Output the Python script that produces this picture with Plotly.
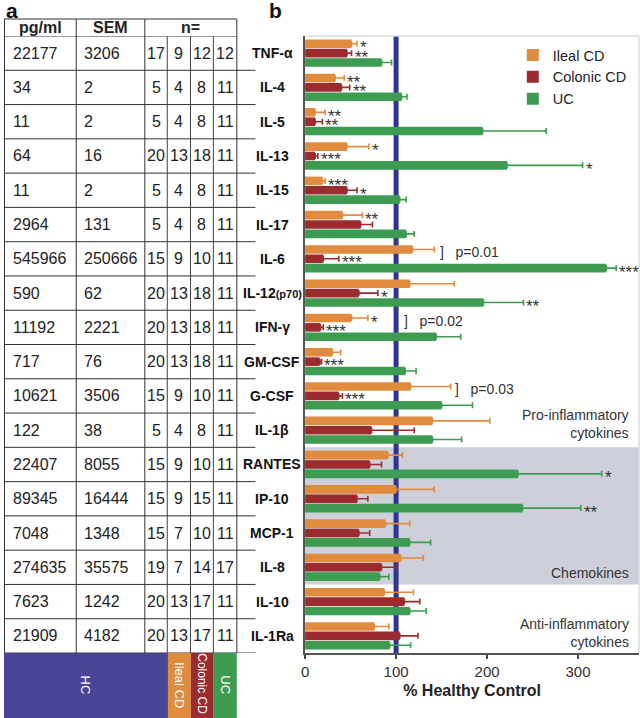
import plotly.graph_objects as go

W, H = 640, 718
def px(x): return x / W
def py(y): return 1 - y / H

# ---------------- data ----------------
cats = ["TNF-α", "IL-4", "IL-5", "IL-13", "IL-15", "IL-17", "IL-6", "IL-12(p70)", "IFN-γ",
        "GM-CSF", "G-CSF", "IL-1β", "RANTES", "IP-10", "MCP-1", "IL-8", "IL-10", "IL-1Ra"]
cat_labels = ["TNF-α", "IL-4", "IL-5", "IL-13", "IL-15", "IL-17", "IL-6",
              "IL-12<span style='font-size:11px'>(p70)</span>", "IFN-γ",
              "GM-CSF", "G-CSF", "IL-1β", "RANTES", "IP-10", "MCP-1", "IL-8", "IL-10", "IL-1Ra"]

ileal = [51, 33, 11, 46, 19, 41, 118, 115, 51, 30, 116, 140, 91, 100, 88, 105, 87, 76]
ileal_err = [6, 10, 11, 24, 3, 22, 24, 49, 18, 9, 44, 63, 16, 42, 27, 25, 32, 16]
colonic = [46, 40, 11, 11, 46, 61, 20, 59, 17, 16, 37, 73, 71, 57, 59, 84, 109, 104]
colonic_err = [5, 9, 8, 3, 11, 13, 17, 21, 3, 2, 4, 47, 13, 12, 12, 17, 17, 20]
uc = [84, 106, 195, 222, 104, 111, 331, 196, 144, 110, 150, 140, 234, 239, 115, 82, 115, 93]
uc_err = [11, 6, 70, 83, 7, 9, 11, 44, 27, 12, 34, 32, 92, 64, 23, 10, 18, 23]

stars_ileal = ["*", "**", "**", "*", "***", "**", "", "", "*", "", "", "", "", "", "", "", "", ""]
stars_colonic = ["**", "**", "**", "***", "*", "", "***", "*", "***", "***", "***", "", "", "", "", "", "", ""]
stars_uc = ["", "", "", "*", "", "", "***", "**", "", "", "", "", "*", "**", "", "", "", ""]

pval_cats = ["IL-6", "IFN-γ", "G-CSF"]
pval_text = ["p=0.01", "p=0.02", "p=0.03"]

pgml = [22177, 34, 11, 64, 11, 2964, 545966, 590, 11192, 717, 10621, 122, 22407, 89345, 7048, 274635, 7623, 21909]
sem = [3206, 2, 2, 16, 2, 131, 250666, 62, 2221, 76, 3506, 38, 8055, 16444, 1348, 35575, 1242, 4182]
n_hc = [17, 5, 5, 20, 5, 5, 15, 20, 20, 20, 15, 5, 15, 15, 15, 19, 20, 20]
n_ileal = [9, 4, 4, 13, 4, 4, 9, 13, 13, 13, 9, 4, 9, 9, 7, 7, 13, 13]
n_colonic = [12, 8, 8, 18, 8, 8, 10, 18, 18, 18, 10, 8, 10, 15, 10, 14, 17, 17]
n_uc = [12, 11, 11, 11, 11, 11, 11, 11, 11, 11, 11, 11, 11, 11, 11, 17, 11, 11]

series_names = ["Ileal CD", "Colonic CD", "UC"]
x_ticks = [0, 100, 200, 300]

# ---------------- styles ----------------
C_ORANGE = "#e08b3d"
C_RED = "#9c2b2f"
C_GREEN = "#3e9c52"
C_BLUE = "#2d3491"
C_PURPLE = "#4a4497"
C_GRAY = "#cdd0d8"
FONT = "Arial, 'Liberation Sans', sans-serif"
TXT = "#222222"

fig = go.Figure()
series = [(ileal, ileal_err, C_ORANGE), (colonic, colonic_err, C_RED), (uc, uc_err, C_GREEN)]
for name, (vals, errs, col) in zip(series_names, series):
    fig.add_trace(go.Bar(
        y=cats, x=vals, name=name, orientation="h",
        marker=dict(color=col, line=dict(width=0)),
        error_x=dict(type="data", symmetric=False, array=errs, arrayminus=[0] * len(errs),
                     color=col, thickness=1.6, width=3),
    ))

shapes = []
ann = []

# chemokine shaded band
shapes.append(dict(type="rect", xref="x domain", yref="y", x0=0, x1=1,
                   y0=cats.index("RANTES") - 0.5, y1=cats.index("IL-8") + 0.5,
                   fillcolor=C_GRAY, line=dict(width=0), layer="below"))
# 100% reference line
shapes.append(dict(type="line", xref="x", yref="y domain", x0=100, x1=100, y0=0, y1=1,
                   line=dict(color=C_BLUE, width=5), layer="below"))
# light top/right frame
shapes.append(dict(type="line", xref="paper", yref="paper", x0=px(303), x1=px(639), y0=py(36), y1=py(36),
                   line=dict(color="#dddddd", width=1.5)))
shapes.append(dict(type="line", xref="paper", yref="paper", x0=px(639), x1=px(639), y0=py(36), y1=py(653),
                   line=dict(color="#dddddd", width=1.5)))

# ---------------- table (panel a) ----------------
LC = "#333333"
col_x = [0.5, 72.7, 141.7, 164.3, 187.7, 210.7, 234.3]
shapes.append(dict(type="line", xref="paper", yref="paper", x0=px(0), x1=px(234.3), y0=py(19), y1=py(19),
                   line=dict(color=LC, width=1)))
shapes.append(dict(type="line", xref="paper", yref="y", x0=px(0), x1=px(234.3), y0=-0.5, y1=-0.5,
                   line=dict(color=LC, width=1)))
for i in range(1, len(cats) + 1):
    shapes.append(dict(type="line", xref="paper", yref="y", x0=px(0), x1=px(253), y0=i - 0.5, y1=i - 0.5,
                       line=dict(color=LC, width=1)))
for j, xv in enumerate(col_x):
    if j in (0, 1, 2, 6):
        shapes.append(dict(type="line", xref="paper", yref="paper", x0=px(xv), x1=px(xv),
                           y0=py(19), y1=py(653), line=dict(color=LC, width=1)))
    else:
        shapes.append(dict(type="line", xref="paper", yref="paper", x0=px(xv), x1=px(xv),
                           y0=py(36.5), y1=py(653), line=dict(color="#444444", width=1)))

for txt, xc in [("pg/ml", 36.5), ("SEM", 107), ("n=", 188)]:
    ann.append(dict(text="<b>" + txt + "</b>", xref="paper", yref="paper", x=px(xc), y=py(28),
                    xanchor="center", yanchor="middle", showarrow=False,
                    font=dict(family=FONT, size=16, color=TXT)))
for i in range(len(cats)):
    ann.append(dict(text=str(pgml[i]), xref="paper", yref="y", x=px(7), y=i, xanchor="left",
                    yanchor="middle", showarrow=False, font=dict(family=FONT, size=16, color=TXT)))
    ann.append(dict(text=str(sem[i]), xref="paper", yref="y", x=px(78.5), y=i, xanchor="left",
                    yanchor="middle", showarrow=False, font=dict(family=FONT, size=16, color=TXT)))
    for arr, xc in [(n_hc, 153), (n_ileal, 176), (n_colonic, 199.2), (n_uc, 222.5)]:
        ann.append(dict(text=str(arr[i]), xref="paper", yref="y", x=px(xc), y=i, xanchor="center",
                        yanchor="middle", showarrow=False, font=dict(family=FONT, size=16, color=TXT)))

# bottom colour strip
strip = [("HC", 0, 165, C_PURPLE, 13, 685.5), ("Ileal CD", 165, 188, C_ORANGE, 13, 685.5),
         ("Colonic CD", 188, 211, C_RED, 12, 683.5), ("UC", 211, 234.3, C_GREEN, 13, 684.5)]
for lab, x0, x1, col, fs, yc in strip:
    shapes.append(dict(type="rect", xref="paper", yref="paper", x0=px(x0), x1=px(x1), y0=py(718), y1=py(653),
                       fillcolor=col, line=dict(width=0)))
    ann.append(dict(text=lab, xref="paper", yref="paper", x=px((x0 + x1) / 2), y=py(yc),
                    xanchor="center", yanchor="middle", textangle=90, showarrow=False,
                    font=dict(family=FONT, size=fs, color="white")))

# category labels (centered)
for i, lab in enumerate(cat_labels):
    ann.append(dict(text="<b>" + lab + "</b>", xref="paper", yref="y", x=px(270), y=i,
                    xanchor="center", yanchor="middle", showarrow=False,
                    font=dict(family=FONT, size=14, color="#111111")))

# significance stars
offs = [-0.27, 0.0, 0.27]
for k, (vals, errs, stars) in enumerate([(ileal, ileal_err, stars_ileal),
                                         (colonic, colonic_err, stars_colonic),
                                         (uc, uc_err, stars_uc)]):
    for i, s in enumerate(stars):
        if s:
            ann.append(dict(text=s, xref="x", yref="y", x=vals[i] + errs[i], y=i + offs[k],
                            xanchor="left", yanchor="middle", xshift=1, yshift=-4, showarrow=False,
                            font=dict(family=FONT, size=17, color="#333333")))

# p-value brackets (bracket sits right of the relevant error bar)
bracket_x = [146, 106, 163]
for c, p, bx in zip(pval_cats, pval_text, bracket_x):
    i = cats.index(c)
    ann.append(dict(text="]&nbsp;&nbsp;&nbsp;" + p, xref="x", yref="y", x=bx, y=i - 0.2,
                    xanchor="left", yanchor="middle", showarrow=False,
                    font=dict(family=FONT, size=14, color="#333333")))

for txt, yc in [("Pro-inflammatory<br>cytokines", 424.5), ("Chemokines", 573),
                ("Anti-inflammatory<br>cytokines", 632.5)]:
    ann.append(dict(text=txt, xref="paper", yref="paper", x=px(631), y=py(yc), xanchor="right",
                    yanchor="middle", align="right", showarrow=False,
                    font=dict(family=FONT, size=14, color="#333333")))

ann.append(dict(text="<b>a</b>", xref="paper", yref="paper", x=px(0), y=py(10), xanchor="left",
                yanchor="middle", showarrow=False, font=dict(family=FONT, size=21, color="#111111")))
ann.append(dict(text="<b>b</b>", xref="paper", yref="paper", x=px(273), y=py(10), xanchor="center",
                yanchor="middle", showarrow=False, font=dict(family=FONT, size=21, color="#111111")))

fig.update_layout(
    width=W, height=H, autosize=False,
    margin=dict(l=0, r=0, t=0, b=0),
    paper_bgcolor="white", plot_bgcolor="white",
    barmode="group", bargap=0.18, bargroupgap=0.08,
    shapes=shapes, annotations=ann,
    font=dict(family=FONT, color=TXT),
    legend=dict(x=px(512), y=py(39), xanchor="left", yanchor="top",
                bgcolor="rgba(0,0,0,0)", font=dict(family=FONT, size=14.5, color="#222222"),
                tracegroupgap=0, itemwidth=30),
    xaxis=dict(domain=[px(303), px(639)], range=[0, 367], tickvals=x_ticks,
               ticks="outside", ticklen=4, tickwidth=1.5, tickcolor="#444444",
               showline=True, linecolor="#555555", linewidth=1.5, showgrid=False, zeroline=False,
               tickfont=dict(family=FONT, size=15, color="#333333"),
               title=dict(text="<b>% Healthy Control</b>", standoff=6,
                          font=dict(family=FONT, size=16, color="#222222"))),
    yaxis=dict(domain=[py(653), py(36)], type="category", range=[len(cats) - 0.5, -0.5],
               showticklabels=False, ticks="", showline=True, linecolor="#555555", linewidth=1.5,
               showgrid=False, zeroline=False),
)

fig.write_html("out.html", config={"displayModeBar": False},
               post_script="document.body.style.margin='0';document.body.style.overflow='hidden';")
